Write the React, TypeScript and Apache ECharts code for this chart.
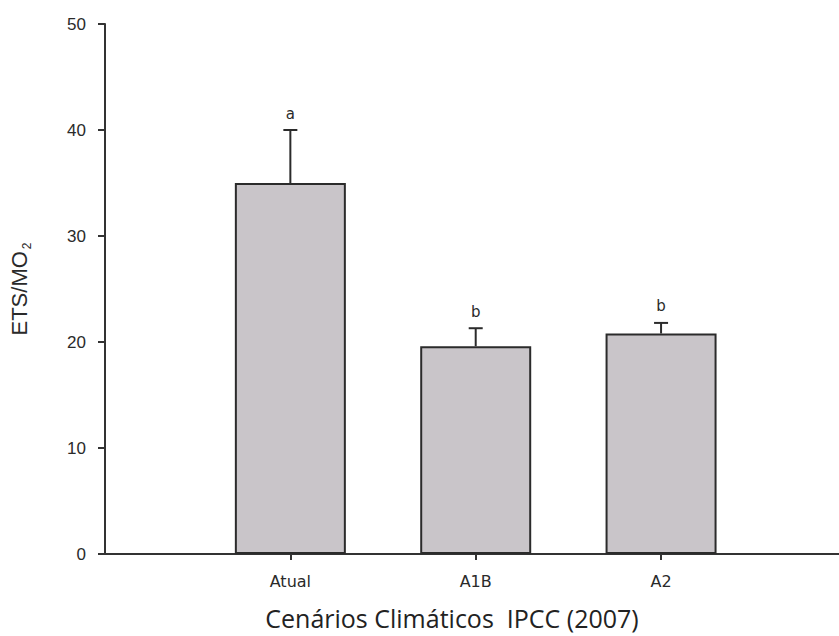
import React, { useEffect, useRef } from "react";
import * as echarts from "echarts";

const categories = ["Atual", "A1B", "A2"];
const means = [35, 19.6, 20.8];
const errUpper = [40, 21.3, 21.8];
const letters = ["a", "b", "b"];
const yTicks = [0, 10, 20, 30, 40, 50];
const xTitle = "Cenários Climáticos  IPCC (2007)";

export default function App() {
  const ref = useRef<HTMLDivElement>(null);
  useEffect(() => {
    if (!ref.current) return;
    const chart = echarts.init(ref.current, null, { renderer: "svg" });
    const pos = categories.map((_, i) => i + 1);
    const barData = pos.map((p, i) => [p, means[i]]);
    const errData = pos.map((p, i) => [p, means[i], errUpper[i], i]);
    const textColor = "#2a2a2a";
    chart.setOption({
      animation: false,
      backgroundColor: "#ffffff",
      grid: { left: 105, right: 0, top: 24, bottom: 82, containLabel: false },
      xAxis: {
        type: "value",
        min: 0,
        max: 3.96,
        interval: 1,
        splitLine: { show: false },
        axisLine: { show: true, lineStyle: { color: "#333", width: 2 } },
        axisTick: {
          show: true,
          customValues: pos,
          length: 6,
          inside: false,
          lineStyle: { color: "#333", width: 2 },
        },
        axisLabel: {
          customValues: pos,
          formatter: (v: number) => categories[Math.round(v) - 1] ?? "",
          color: textColor,
          fontFamily: "DejaVu Sans",
          fontSize: 16,
          margin: 19,
        },
      },
      yAxis: {
        type: "value",
        min: yTicks[0],
        max: yTicks[yTicks.length - 1],
        interval: 10,
        splitLine: { show: false },
        axisLine: { show: true, lineStyle: { color: "#333", width: 2 } },
        axisTick: { show: true, length: 7, lineStyle: { color: "#333", width: 2 } },
        axisLabel: {
          color: textColor,
          fontFamily: "Liberation Sans",
          fontSize: 17,
          margin: 19,
        },
        name: "ETS/MO{s|2}",
        nameLocation: "middle",
        nameRotate: 90,
        nameGap: 72,
        nameTextStyle: {
          color: textColor,
          fontFamily: "Liberation Sans",
          fontSize: 22,
          rich: {
            s: { fontSize: 12, fontFamily: "Liberation Sans", color: textColor, padding: [16, 0, 0, 2] },
          },
        },
      },
      series: [
        {
          type: "bar",
          data: barData,
          barWidth: 111,
          itemStyle: { color: "#c9c5c9", borderColor: "#2b2b2b", borderWidth: 2 },
          z: 2,
        },
        {
          type: "custom",
          data: errData,
          z: 3,
          renderItem: (params: any, api: any) => {
            const x = api.value(0);
            const m = api.value(1);
            const e = api.value(2);
            const idx = api.value(3);
            const p0 = api.coord([x, m]);
            const p1 = api.coord([x, e]);
            const cap = 7;
            const st = { stroke: "#2b2b2b", lineWidth: 2 };
            return {
              type: "group",
              children: [
                { type: "line", shape: { x1: p0[0], y1: p0[1], x2: p1[0], y2: p1[1] }, style: st },
                { type: "line", shape: { x1: p1[0] - cap, y1: p1[1], x2: p1[0] + cap, y2: p1[1] }, style: st },
                {
                  type: "text",
                  style: {
                    text: letters[idx],
                    x: p1[0],
                    y: p1[1] - 9,
                    textAlign: "center",
                    textVerticalAlign: "bottom",
                    fontSize: 15,
                    fontFamily: "DejaVu Sans",
                    fill: textColor,
                  },
                },
              ],
            };
          },
        },
      ],
      graphic: [
        {
          type: "text",
          x: 452,
          y: 618,
          style: {
            text: xTitle,
            fontFamily: "Open Sans",
            fontSize: 25,
            fill: "#222",
            textAlign: "center",
            textVerticalAlign: "middle",
          },
        },
      ],
    });
    return () => chart.dispose();
  }, []);
  return (
    <div
      ref={ref}
      style={{ position: "absolute", left: 0, top: 0, width: 839, height: 636, background: "#fff" }}
    />
  );
}
